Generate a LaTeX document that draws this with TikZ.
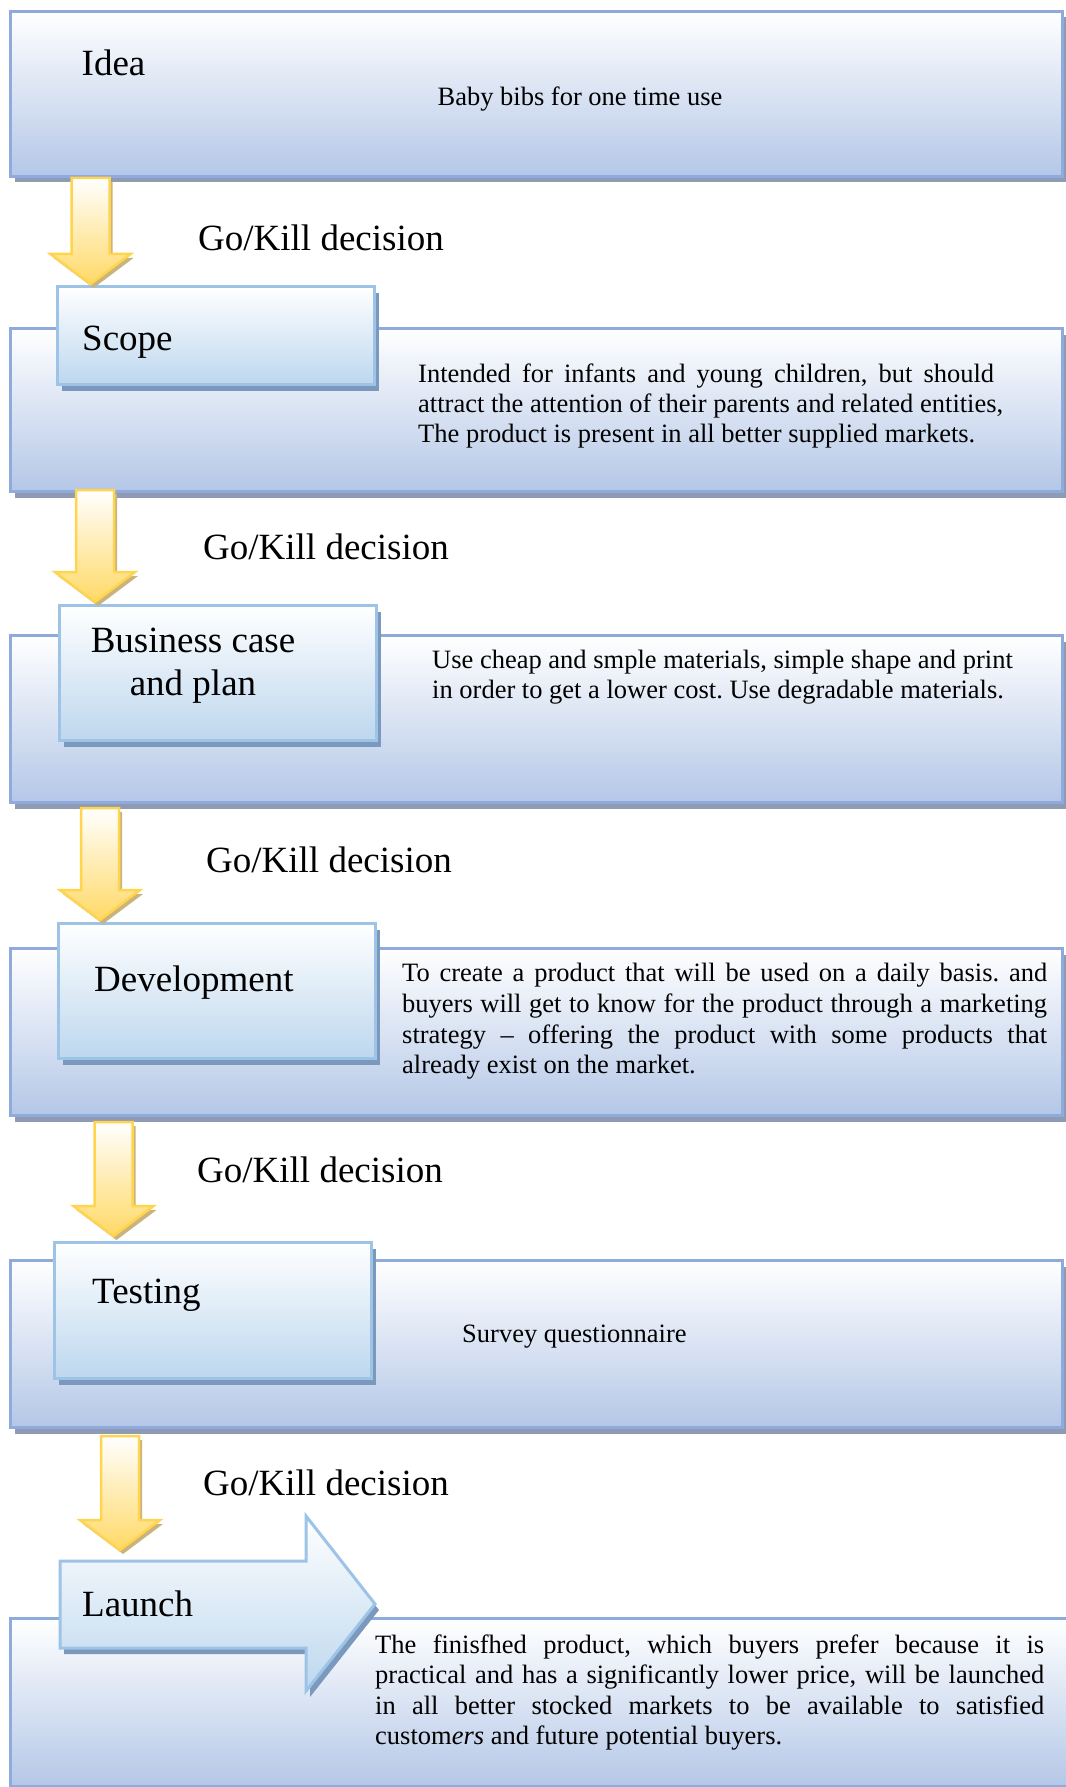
\documentclass[tikz,border=0pt]{standalone}
\usepackage{fontspec}
\setmainfont{Liberation Serif}
\usetikzlibrary{shadows,calc}
\frenchspacing
\definecolor{bigB}{HTML}{B4C7E7}
\definecolor{bigD}{HTML}{8FAADC}
\definecolor{bigS}{HTML}{8E9BB3}
\definecolor{smB}{HTML}{BDD7EE}
\definecolor{smD}{HTML}{9DC3E6}
\definecolor{smS}{HTML}{7B98BD}
\definecolor{yB}{HTML}{FFD966}
\definecolor{yD}{HTML}{FFD54F}
\definecolor{yS}{HTML}{C8B47C}
\tikzset{
  bigbox/.style={draw=bigD, line width=3pt, top color=white, bottom color=bigB,
    anchor=north west, inner sep=0pt, minimum width=1052pt,
    drop shadow={shadow xshift=4pt, shadow yshift=-6pt, fill=bigS, opacity=1}},
  smallbox/.style={draw=smD, line width=3pt, top color=white, bottom color=smB,
    anchor=north west, inner sep=0pt, minimum width=317pt,
    drop shadow={shadow xshift=4pt, shadow yshift=-6pt, fill=smS, opacity=1}},
  launchshape/.style={draw=smD, line width=3pt, top color=white, bottom color=smB, line join=miter,
    drop shadow={shadow xshift=4pt, shadow yshift=-6pt, fill=smS, opacity=1}},
  yarrow/.style={draw=yD, line width=2.5pt, top color=white, bottom color=yB, line join=miter,
    drop shadow={shadow xshift=3pt, shadow yshift=-4pt, fill=yS, opacity=1}},
  head/.style={font=\fontsize{37}{43}\selectfont, anchor=base west, inner sep=0pt},
  body/.style={font=\fontsize{26.5}{30}\selectfont\frenchspacing, anchor=base west, inner sep=0pt},
}
\newcommand\garrow[2]{%
  \draw[yarrow] ($(#1)+(-19,0)$) -- ($(#1)+(19,0)$) -- ($(#2)+(19,-30)$) -- ($(#2)+(40,-30)$)
    -- (#2) -- ($(#2)+(-40,-30)$) -- ($(#2)+(-19,-30)$) -- cycle;}
\begin{document}
\begin{tikzpicture}[x=1pt,y=-1pt]
\useasboundingbox (0,0) rectangle (1065,1787);
\fill[white] (0,0) rectangle (1065,1787);

% Row 1: Idea
\node[bigbox, minimum height=165pt] (b1) at (9,10) {};
\node[head] (t1) at (81.5,76) {Idea};
\node[body, anchor=base] (d1) at (580,106) {Baby bibs for one time use};

% Row 2: Scope
\node[bigbox, minimum height=163pt] (b2) at (9,327) {};
\node[smallbox, minimum height=98pt] (s2) at (56,285) {};
\node[head] (t2) at (82,350) {Scope};
\node[body] (d2a) at (418,382) {\makebox[576pt][s]{Intended for infants and young children, but should}};
\node[body] (d2b) at (418,412) {attract the attention of their parents and related entities,};
\node[body] (d2c) at (418,442) {The product is present in all better supplied markets.};

% Row 3: Business case
\node[bigbox, minimum height=167pt] (b3) at (9,634) {};
\node[smallbox, minimum height=135pt] (s3) at (58,604) {};
\node[head, anchor=base] (t3a) at (193,652) {Business case};
\node[head, anchor=base] (t3b) at (193,695) {and plan};
\node[body] (d3a) at (432,668) {Use cheap and smple materials, simple shape and print};
\node[body] (d3b) at (432,698) {in order to get a lower cost. Use degradable materials.};

% Row 4: Development
\node[bigbox, minimum height=167pt] (b4) at (9,947) {};
\node[smallbox, minimum height=135pt] (s4) at (57,922) {};
\node[head] (t4) at (94,991) {Development};
\node[body] (d4a) at (402,981) {\makebox[645pt][s]{To create a product that will be used on a daily basis. and}};
\node[body] (d4b) at (402,1012) {\makebox[645pt][s]{buyers will get to know for the product through a marketing}};
\node[body] (d4c) at (402,1043) {\makebox[645pt][s]{strategy – offering the product with some products that}};
\node[body] (d4d) at (402,1073) {already exist on the market.};

% Row 5: Testing
\node[bigbox, minimum height=167pt] (b5) at (9,1259) {};
\node[smallbox, minimum height=136pt] (s5) at (53,1241) {};
\node[head] (t5) at (92,1303) {Testing};
\node[body] (d5) at (462,1342) {Survey questionnaire};

% Row 6: Launch
\node[bigbox, minimum width=1070pt, minimum height=168pt] (b6) at (9,1617) {};
\coordinate (L0) at (60,1561);
\coordinate (Ltip) at (375,1604);
\draw[launchshape] (L0) -- (306,1561) -- (306,1516) -- (Ltip) -- (306,1691) -- (306,1648) -- (60,1648) -- cycle;
\node[head] (t6) at (82,1616) {Launch};
\node[body] (d6a) at (375,1653) {\makebox[669pt][s]{The finisfhed product, which buyers prefer because it is}};
\node[body] (d6b) at (375,1683) {\makebox[669pt][s]{practical and has a significantly lower price, will be launched}};
\node[body] (d6c) at (375,1714) {\makebox[669pt][s]{in all better stocked markets to be available to satisfied}};
\node[body] (d6d) at (375,1744) {custom\textit{ers} and future potential buyers.};

% Go/Kill arrows
\coordinate (a1t) at (90.5,178);  \coordinate (a1h) at (90.5,284);
\coordinate (a2t) at (95,490);    \coordinate (a2h) at (95,602);
\coordinate (a3t) at (100,808);   \coordinate (a3h) at (100,920);
\coordinate (a4t) at (113.5,1122);\coordinate (a4h) at (113.5,1236);
\coordinate (a5t) at (120,1436);  \coordinate (a5h) at (120,1550);
\garrow{a1t}{a1h}
\garrow{a2t}{a2h}
\garrow{a3t}{a3h}
\garrow{a4t}{a4h}
\garrow{a5t}{a5h}

\node[head] (g1) at (198,251) {Go/Kill decision};
\node[head] (g2) at (203,559) {Go/Kill decision};
\node[head] (g3) at (206,872) {Go/Kill decision};
\node[head] (g4) at (197,1182) {Go/Kill decision};
\node[head] (g5) at (203,1495) {Go/Kill decision};
\end{tikzpicture}
\end{document}
